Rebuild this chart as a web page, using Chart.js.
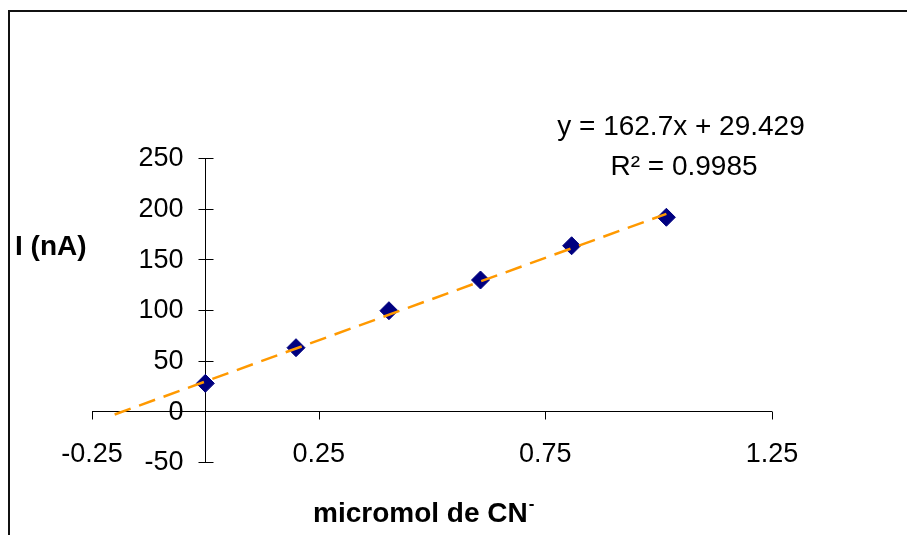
<!DOCTYPE html>
<html>
<head>
<meta charset="utf-8">
<script src="https://cdn.jsdelivr.net/npm/chart.js@4.4.1/dist/chart.umd.min.js"></script>
<style>
    html, body { margin: 0; padding: 0; background: #fff; overflow: hidden; }
    #marco { position: absolute; left: 8px; top: 10px; width: 960px; height: 600px; border: 2px solid #111; }
    #grafico { position: absolute; left: 0; top: 0; }
</style>
</head>
<body>
<div id="marco"></div>
<canvas id="grafico" width="907" height="535"></canvas>
<script>
// datos
const micromolCN = [0, 0.2, 0.405, 0.607, 0.808, 1.017];
const corriente = [27.6, 62.8, 99.3, 129.6, 163.4, 191.5];

// línea de tendencia (ecuación mostrada en el gráfico)
const pendiente = 162.7;
const intercepto = 29.429;
const tendenciaX = [-0.2, 1.017];
const ecuacion = 'y = 162.7x + 29.429';
const r2Texto = 'R² = 0.9985';

// ejes
const xTicks = [-0.25, 0.25, 0.75, 1.25];
const xTickLabels = ['-0.25', '0.25', '0.75', '1.25'];
const yTicks = [-50, 0, 50, 100, 150, 200, 250];
const yTickLabels = ['-50', '0', '50', '100', '150', '200', '250'];

const FUENTE = '"Liberation Sans", Arial, sans-serif';

const puntos = micromolCN.map((x, i) => ({ x: x, y: corriente[i] }));
const tendencia = tendenciaX.map(x => ({ x: x, y: pendiente * x + intercepto }));

const ejesExcel = {
    id: 'ejesExcel',
    beforeDatasetsDraw(chart) {
        const ctx = chart.ctx;
        const sx = chart.scales.x;
        const sy = chart.scales.y;
        const x0 = Math.round(sx.getPixelForValue(0)) + 0.5;
        const y0 = Math.round(sy.getPixelForValue(0)) + 0.5;
        ctx.save();
        ctx.strokeStyle = '#000';
        ctx.lineWidth = 1;
        ctx.beginPath();
        // eje Y
        ctx.moveTo(x0, sy.getPixelForValue(yTicks[0]));
        ctx.lineTo(x0, sy.getPixelForValue(yTicks[yTicks.length - 1]));
        yTicks.forEach(v => {
            const py = Math.round(sy.getPixelForValue(v)) + 0.5;
            ctx.moveTo(x0 - 7, py);
            ctx.lineTo(x0 + 8, py);
        });
        // eje X
        ctx.moveTo(sx.getPixelForValue(xTicks[0]), y0);
        ctx.lineTo(sx.getPixelForValue(xTicks[xTicks.length - 1]), y0);
        xTicks.forEach(v => {
            const px = Math.round(sx.getPixelForValue(v)) + 0.5;
            ctx.moveTo(px, y0);
            ctx.lineTo(px, y0 + 8);
        });
        ctx.stroke();

        ctx.fillStyle = '#000';
        ctx.font = '27px ' + FUENTE;
        ctx.textAlign = 'right';
        ctx.textBaseline = 'middle';
        yTicks.forEach((v, i) => {
            ctx.fillText(yTickLabels[i], x0 - 22, sy.getPixelForValue(v) + 1);
        });
        ctx.textAlign = 'center';
        ctx.textBaseline = 'alphabetic';
        xTicks.forEach((v, i) => {
            ctx.fillText(xTickLabels[i], sx.getPixelForValue(v), 462);
        });
        ctx.restore();
    },
    afterDraw(chart) {
        const ctx = chart.ctx;
        ctx.save();
        ctx.fillStyle = '#000';
        ctx.textBaseline = 'alphabetic';

        // ecuación y R²
        ctx.font = '28px ' + FUENTE;
        ctx.textAlign = 'center';
        ctx.fillText(ecuacion, 681, 135);
        ctx.fillText(r2Texto, 684, 175);

        // títulos de ejes
        ctx.font = 'bold 28px ' + FUENTE;
        ctx.textAlign = 'left';
        ctx.fillText('I (nA)', 15, 255);
        const titulo = 'micromol de CN';
        const ancho = ctx.measureText(titulo).width;
        const xi = 313;
        ctx.fillText(titulo, xi, 522);
        ctx.font = 'bold 17px ' + FUENTE;
        ctx.fillText('-', xi + ancho + 1, 509);
        ctx.restore();
    }
};

new Chart(document.getElementById('grafico'), {
    type: 'scatter',
    data: {
        datasets: [{
            label: 'I (nA)',
            data: puntos,
            pointStyle: 'rectRot',
            pointRadius: 9,
            pointBorderWidth: 1,
            backgroundColor: '#000080',
            borderColor: '#000080',
            showLine: false,
            order: 2
        }, {
            label: 'Lineal',
            data: tendencia,
            showLine: true,
            pointRadius: 0,
            borderColor: '#FF9900',
            borderWidth: 2.5,
            borderDash: [17, 9],
            order: 1
        }]
    },
    options: {
        responsive: false,
        animation: false,
        devicePixelRatio: 1,
        layout: { padding: { left: 92, right: 135, top: 158, bottom: 73 } },
        scales: {
            x: { type: 'linear', min: -0.25, max: 1.25, display: false },
            y: { type: 'linear', min: -50, max: 250, display: false }
        },
        plugins: {
            legend: { display: false },
            tooltip: { enabled: false }
        }
    },
    plugins: [ejesExcel]
});
</script>
</body>
</html>
